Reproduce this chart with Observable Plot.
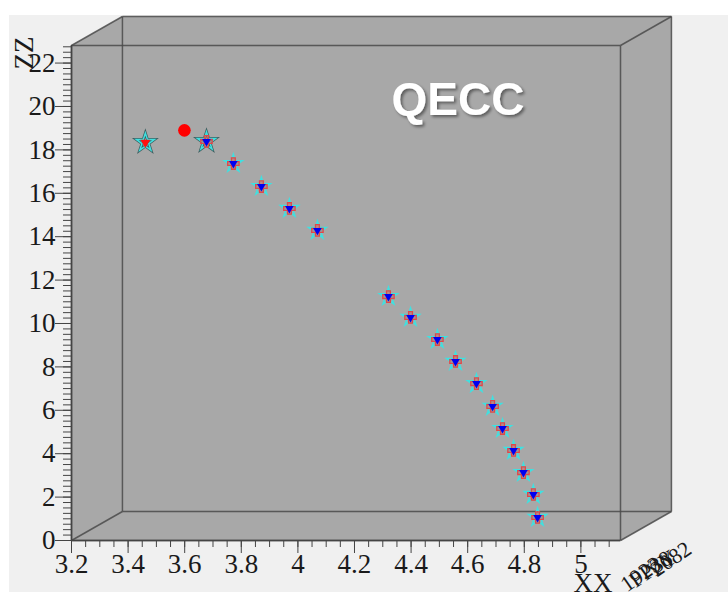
<!DOCTYPE html>
<html><head><meta charset="utf-8">
<script src="https://cdn.jsdelivr.net/npm/d3@7"></script>
<script src="https://cdn.jsdelivr.net/npm/@observablehq/plot@0.6"></script>
<style>
html,body{margin:0;padding:0;background:#fff;width:728px;height:598px;overflow:hidden}
#chart{position:absolute;left:9px;top:15px;}
#chart svg{background:#f0f0f0;overflow:visible;display:block}
</style></head><body><div id="chart"></div>
<script>
// ---- data ----
const xValues = [3.461, 3.599, 3.677, 3.772, 3.871, 3.970, 4.069, 4.320, 4.398, 4.493, 4.557, 4.631, 4.688, 4.723, 4.762, 4.797, 4.832, 4.847];
const zValues = [18.34, 18.90, 18.39, 17.37, 16.31, 15.30, 14.29, 11.24, 10.28, 9.26, 8.25, 7.23, 6.18, 5.16, 4.15, 3.13, 2.12, 1.06];
const markerKind = ["starRed", "circle", "full", "full", "full", "full", "full", "full", "full", "full", "full", "full", "full", "full", "full", "full", "full", "full"];

const xTicks = [3.2, 3.4, 3.6, 3.8, 4.0, 4.2, 4.4, 4.6, 4.8, 5.0];
const xTickLabels = ["3.2", "3.4", "3.6", "3.8", "4", "4.2", "4.4", "4.6", "4.8", "5"];
const zTicks = [0, 2, 4, 6, 8, 10, 12, 14, 16, 18, 20, 22];
const zTickLabels = ["0", "2", "4", "6", "8", "10", "12", "14", "16", "18", "20", "22"];

const xDomain = [3.2, 5.14];
const zDomain = [0, 22.81];
const depth = [0.180, 1.336]; // back-face offset in data units

const title = "QECC";
const xTitle = "XX";
const zTitle = "ZZ";
const yTitleGarble = ["1923", "PP38", "YY", "2082"];

// ---- derived tables ----
const points = xValues.map((x, i) => ({x, z: zValues[i], kind: markerKind[i]}));
const [x0, x1] = xDomain, [z0, z1] = zDomain, [dxD, dzD] = depth;
const hull = [
  {x: x0, z: z0}, {x: x1, z: z0}, {x: x1 + dxD, z: z0 + dzD},
  {x: x1 + dxD, z: z1 + dzD}, {x: x0 + dxD, z: z1 + dzD}, {x: x0, z: z1}, {x: x0, z: z0}
];
const corners = [[x0, z0], [x1, z0], [x1, z1], [x0, z1]];
const edges = [];
for (let i = 0; i < 4; i++) {
  const a = corners[i], b = corners[(i + 1) % 4];
  edges.push({xa: a[0], za: a[1], xb: b[0], zb: b[1]});
  edges.push({xa: a[0] + dxD, za: a[1] + dzD, xb: b[0] + dxD, zb: b[1] + dzD});
  edges.push({xa: a[0], za: a[1], xb: a[0] + dxD, zb: a[1] + dzD});
}
const xMinor = d3.range(0, 39).map(i => +(3.2 + i * 0.05).toFixed(2)).filter(v => v <= x1);
const zMinor = d3.range(0, 92).map(i => i * 0.25).filter(v => v <= z1);

const serif = "Liberation Serif, Times New Roman, serif";
const starPts = points.filter(p => p.kind !== "circle");
const fullPts = points.filter(p => p.kind === "full");

const chart = Plot.plot({
  width: 719, height: 577,
  marginLeft: 62, marginRight: 108, marginTop: 30, marginBottom: 52,
  x: {domain: xDomain, label: null},
  y: {domain: zDomain, label: null},
  style: {background: "#f0f0f0", overflow: "visible"},
  marks: [
    Plot.line(hull, {x: "x", y: "z", fill: "#a8a8a8", stroke: "none"}),
    Plot.link(edges, {x1: "xa", y1: "za", x2: "xb", y2: "zb", stroke: "#4a4a4a", strokeWidth: 1.5, strokeOpacity: 0.85}),
    Plot.axisY(zMinor, {anchor: "left", tickSize: 8, text: null, stroke: "#444", label: null}),
    Plot.axisY(zTicks, {anchor: "left", tickSize: 16, tickPadding: 0, fontSize: 27, fontFamily: serif, fill: "#1a1a1a", stroke: "#444",
      tickFormat: d => zTickLabels[zTicks.indexOf(d)], label: null}),
    Plot.axisX(xMinor, {anchor: "bottom", tickSize: 7, text: null, stroke: "#444", label: null}),
    Plot.axisX(xTicks, {anchor: "bottom", tickSize: 13, tickPadding: 0, fontSize: 27, fontFamily: serif, fill: "#1a1a1a", stroke: "#444",
      tickFormat: d => xTickLabels[xTicks.indexOf(d)], label: null}),
    Plot.ruleX([x0], {y1: z0, y2: z1, stroke: "#444", strokeWidth: 1.5}),
    Plot.ruleY([z0], {x1: x0, x2: x1, stroke: "#444", strokeWidth: 1.5}),
    // stars
    Plot.dot(points.filter(p => p.kind !== "circle" && p.z > 18), {x: "x", y: "z", symbol: "star", r: 5.6, fill: "none", stroke: "#3d5f60", strokeWidth: 3}),
    Plot.dot(starPts, {x: "x", y: "z", symbol: "star", r: 5.6, fill: "none", stroke: "#40e0e0", strokeWidth: 1.5}),
    // red crosses
    Plot.dot(fullPts, {x: "x", y: "z", symbol: "cross", r: 4.8, fill: "rgba(225,90,90,0.45)", stroke: "#e04848", strokeWidth: 1.3}),
    // blue triangles (pointing down)
    Plot.dot(fullPts, {x: "x", y: "z", symbol: "triangle", rotate: 180, r: 3.2, fill: "#0000f0", stroke: "none"}),
    // red triangle in first star
    Plot.dot(points.filter(p => p.kind === "starRed"), {x: "x", y: "z", symbol: "triangle", rotate: 180, r: 3.6, fill: "#ff1010", stroke: "none"}),
    // red circle
    Plot.dot(points.filter(p => p.kind === "circle"), {x: "x", y: "z", r: 6.3, fill: "#ff0000", stroke: "none"})
  ]
});
document.getElementById("chart").appendChild(chart);

// ---- titles (real text) ----
const svg = d3.select(chart);
const defs = svg.append("defs");
const f = defs.append("filter").attr("id", "shadow").attr("x", "-20%").attr("y", "-20%").attr("width", "140%").attr("height", "160%");
f.append("feDropShadow").attr("dx", 2).attr("dy", 2).attr("stdDeviation", 1.5).attr("flood-color", "#000").attr("flood-opacity", 0.45);

svg.append("text").text(title)
  .attr("x", 449).attr("y", 100).attr("text-anchor", "middle")
  .attr("font-family", "Liberation Sans, Arial, sans-serif").attr("font-weight", "bold").attr("font-size", 46)
  .attr("fill", "#fff").attr("filter", "url(#shadow)");

svg.append("text").text(zTitle)
  .attr("transform", "translate(24,38) rotate(-90)").attr("text-anchor", "middle")
  .attr("font-family", serif).attr("font-size", 27).attr("fill", "#1a1a1a");

svg.append("text").text(xTitle)
  .attr("x", 584).attr("y", 577)
  .attr("font-family", serif).attr("font-size", 27).attr("fill", "#1a1a1a");

yTitleGarble.forEach((t, i) => {
  svg.append("text").text(t)
    .attr("transform", `translate(${636 + i * 10},${565 - i * 5}) rotate(-35)`)
    .attr("font-family", serif).attr("font-size", 22).attr("fill", "#1a1a1a");
});
</script></body></html>
